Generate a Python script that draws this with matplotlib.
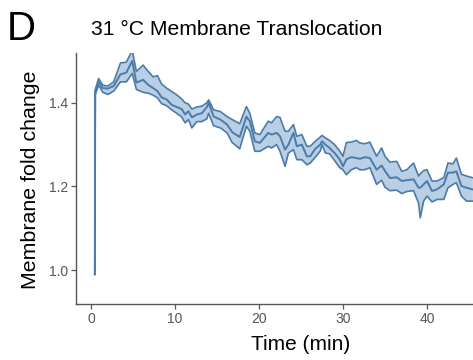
import matplotlib
matplotlib.use("Agg")
import matplotlib.pyplot as plt
import numpy as np

plt.rcParams['font.family'] = ['Liberation Sans', 'DejaVu Sans']

# time (min), mean fold change and ribbon bounds
time = [0.45, 0.5, 0.9, 1.4, 2.0, 2.7, 3.5, 4.2, 4.9, 5.4, 6.2, 6.8, 7.4, 7.9,
        8.4, 9.0, 9.6, 10.2, 10.8, 11.2, 11.6, 12.0, 12.6, 13.2, 13.8, 14.0,
        14.6, 15.4, 16.2, 16.8, 17.7, 18.5, 18.9, 19.5, 20.1, 21.1, 21.5,
        22.1, 22.5, 23.1, 23.5, 24.1, 24.5, 25.1, 25.7, 26.1, 26.7, 27.3,
        27.5, 27.9, 28.4, 29.0, 29.6, 30.0, 30.4, 31.0, 31.6, 32.0, 32.6,
        33.2, 34.0, 34.6, 35.0, 35.6, 36.4, 37.0, 37.6, 38.4, 39.0, 39.2,
        39.6, 40.0, 40.6, 41.2, 42.0, 42.5, 43.1, 43.5, 44.1, 44.7, 45.4]
mean = [0.99, 1.427, 1.450, 1.435, 1.434, 1.440, 1.468, 1.472, 1.500, 1.448,
        1.455, 1.443, 1.435, 1.428, 1.413, 1.408, 1.395, 1.390, 1.385, 1.372,
        1.380, 1.365, 1.372, 1.375, 1.390, 1.400, 1.367, 1.360, 1.348, 1.330,
        1.318, 1.367, 1.356, 1.308, 1.304, 1.328, 1.324, 1.328, 1.320, 1.288,
        1.300, 1.328, 1.296, 1.300, 1.272, 1.272, 1.290, 1.300, 1.308, 1.300,
        1.292, 1.280, 1.265, 1.248, 1.265, 1.270, 1.268, 1.266, 1.270, 1.268,
        1.240, 1.250, 1.237, 1.220, 1.222, 1.213, 1.215, 1.217, 1.197, 1.197,
        1.205, 1.213, 1.189, 1.193, 1.205, 1.233, 1.233, 1.236, 1.201, 1.197,
        1.193]
upper = [0.99, 1.431, 1.458, 1.442, 1.440, 1.450, 1.495, 1.497, 1.525, 1.475,
         1.490, 1.475, 1.462, 1.465, 1.445, 1.435, 1.427, 1.419, 1.409, 1.400,
         1.397, 1.385, 1.390, 1.392, 1.400, 1.407, 1.383, 1.379, 1.367, 1.360,
         1.350, 1.391, 1.375, 1.328, 1.324, 1.356, 1.352, 1.367, 1.365, 1.332,
         1.332, 1.348, 1.320, 1.324, 1.296, 1.296, 1.308, 1.318, 1.322, 1.316,
         1.310, 1.300, 1.285, 1.272, 1.305, 1.306, 1.310, 1.304, 1.302, 1.306,
         1.272, 1.292, 1.272, 1.258, 1.260, 1.236, 1.240, 1.256, 1.225, 1.230,
         1.238, 1.240, 1.213, 1.213, 1.221, 1.256, 1.254, 1.268, 1.229, 1.225,
         1.221]
lower = [0.99, 1.420, 1.442, 1.425, 1.420, 1.428, 1.450, 1.450, 1.470, 1.432,
         1.425, 1.423, 1.418, 1.412, 1.398, 1.393, 1.383, 1.375, 1.366, 1.352,
         1.360, 1.340, 1.355, 1.355, 1.362, 1.375, 1.345, 1.340, 1.328, 1.305,
         1.290, 1.344, 1.332, 1.284, 1.284, 1.296, 1.292, 1.300, 1.284, 1.248,
         1.280, 1.288, 1.264, 1.264, 1.252, 1.256, 1.270, 1.285, 1.300, 1.280,
         1.278, 1.262, 1.245, 1.240, 1.228, 1.240, 1.245, 1.240, 1.240, 1.245,
         1.205, 1.215, 1.198, 1.190, 1.191, 1.183, 1.188, 1.190, 1.160, 1.125,
         1.165, 1.177, 1.163, 1.169, 1.169, 1.197, 1.205, 1.209, 1.177, 1.165,
         1.165]

line_col = '#4d7ba8'
fill_col = '#b9cfe5'

fig = plt.figure(figsize=(4.73, 3.6), dpi=100)
ax = fig.add_axes([76 / 473, 56 / 360, 397 / 473, 251 / 360])

ax.fill_between(time, lower, upper, color=fill_col, linewidth=0)
ax.plot(time, upper, color=line_col, lw=1.2)
ax.plot(time, lower, color=line_col, lw=1.2)
ax.plot(time, mean, color=line_col, lw=1.4)

ax.set_xlim(-1.79, 45.48)
ax.set_ylim(0.919, 1.519)
ax.set_xticks([0, 10, 20, 30, 40])
ax.set_yticks([1.0, 1.2, 1.4])
ax.set_yticklabels(['1.0', '1.2', '1.4'])

for s in ['top', 'right']:
    ax.spines[s].set_visible(False)
for s in ['left', 'bottom']:
    ax.spines[s].set_color('#555555')
    ax.spines[s].set_linewidth(1.0)
ax.tick_params(colors='#555555', labelcolor='#555555', labelsize=10,
               length=3.5, width=0.9, pad=2)

fig.text(7 / 473, 1 - 40 / 360, 'D', fontsize=29, va='baseline', ha='left')
fig.text(91 / 473, 1 - 35 / 360, '31 °C Membrane Translocation',
         fontsize=15.2, va='baseline', ha='left')
fig.text(301 / 473, 1 - 344 / 360, 'Time (min)', fontsize=15,
         va='center', ha='center')
fig.text(30 / 473, 1 - 180 / 360, 'Membrane fold change', fontsize=15.4,
         rotation=90, va='center', ha='center')

fig.savefig('out.png', dpi=100)
